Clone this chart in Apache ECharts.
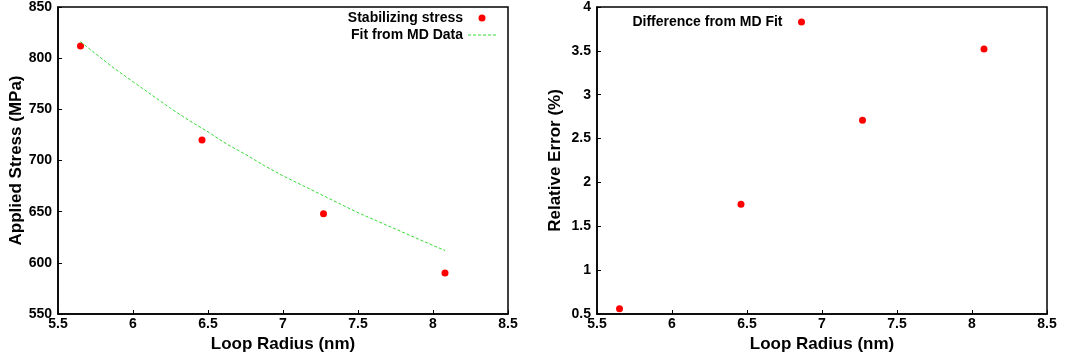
<!DOCTYPE html>
<html>
<head>
<meta charset="utf-8">
<script src="https://cdn.jsdelivr.net/npm/echarts@6/dist/echarts.min.js"></script>
<style>
html,body{margin:0;padding:0;background:#fff;}
#chart{width:1070px;height:360px;}
</style>
</head>
<body>
<div id="chart"></div>
<script>
// Data
const loopRadius = [5.65, 6.46, 7.27, 8.08];
const stabilizingStress = [812, 720, 648, 590];
const fitRadius = [5.65, 5.875, 6.0, 6.125, 6.25, 6.375, 6.5, 6.625, 6.75, 6.875, 7.0,
                   7.125, 7.25, 7.375, 7.5, 7.625, 7.75, 7.875, 8.0, 8.08];
const fitStress = [816, 790, 777, 764, 751, 739, 728, 716, 706, 695, 685,
                   676, 667, 658, 649, 641, 633, 625, 617, 612];
const relativeError = [0.56, 1.75, 2.71, 3.52];

const xTicks = {min: 5.5, max: 8.5, interval: 0.5};
const yTicksLeft = {min: 550, max: 850, interval: 50};
const yTicksRight = {min: 0.5, max: 4, interval: 0.5};

const FONT = '"Liberation Sans", Arial, sans-serif';
const axisLabel = {color: '#000', fontWeight: 'bold', fontSize: 14, fontFamily: FONT};
const nameStyle = {color: '#000', fontWeight: 'bold', fontSize: 17, fontFamily: FONT};
const legendText = {color: '#000', fontWeight: 'bold', fontSize: 14, fontFamily: FONT};
const GREEN = '#33dd33';
const dashIcon = 'path://M0 0h3v1h-3z M5 0h3v1h-3z M10 0h3v1h-3z M15 0h3v1h-3z M20 0h3v1h-3z M25 0h3v1h-3z';

function xAxis(gridIndex) {
  return {
    type: 'value', gridIndex,
    min: xTicks.min, max: xTicks.max, interval: xTicks.interval,
    name: 'Loop Radius (nm)', nameLocation: 'middle', nameGap: 20, nameTextStyle: nameStyle,
    axisLine: {show: true, lineStyle: {color: '#000', width: 1.5}},
    axisTick: {show: true, inside: true, length: 4, lineStyle: {color: '#000', width: 1}},
    axisLabel: Object.assign({margin: 3}, axisLabel),
    splitLine: {show: false}
  };
}
function yAxis(gridIndex, t, name) {
  return {
    type: 'value', gridIndex,
    min: t.min, max: t.max, interval: t.interval,
    name, nameLocation: 'middle', nameGap: 33, nameTextStyle: nameStyle,
    axisLine: {show: true, lineStyle: {color: '#000', width: 1.5}},
    axisTick: {show: true, inside: true, length: 4, lineStyle: {color: '#000', width: 1}},
    axisLabel: Object.assign({margin: 6}, axisLabel),
    splitLine: {show: false}
  };
}

const chart = echarts.init(document.getElementById('chart'), null, {renderer: 'canvas'});
chart.setOption({
  animation: false,
  backgroundColor: '#fff',
  grid: [
    {left: 58, top: 4, width: 450, height: 310, show: true, borderColor: '#000', borderWidth: 1.5},
    {left: 597, top: 4, width: 450, height: 310, show: true, borderColor: '#000', borderWidth: 1.5}
  ],
  xAxis: [xAxis(0), xAxis(1)],
  yAxis: [
    yAxis(0, yTicksLeft, 'Applied Stress (MPa)'),
    yAxis(1, yTicksRight, 'Relative Error (%)')
  ],
  legend: [
    {
      data: [
        {name: 'Stabilizing stress', icon: 'circle'},
        {name: 'Fit from MD Data', icon: dashIcon, itemStyle: {color: GREEN, borderWidth: 0}}
      ],
      orient: 'vertical', align: 'right', right: 574, top: 11, padding: 0,
      itemWidth: 28, itemHeight: 7, itemGap: 3,
      textStyle: legendText
    },
    {
      data: [{name: 'Difference from MD Fit', icon: 'circle'}],
      orient: 'vertical', align: 'right', right: 265, top: 15, padding: 0,
      itemWidth: 28, itemHeight: 7,
      textStyle: legendText
    }
  ],
  series: [
    {
      name: 'Stabilizing stress', type: 'scatter', xAxisIndex: 0, yAxisIndex: 0,
      symbol: 'circle', symbolSize: 7, itemStyle: {color: '#ff0000', opacity: 1},
      data: loopRadius.map((r, i) => [r, stabilizingStress[i]])
    },
    {
      name: 'Fit from MD Data', type: 'line', xAxisIndex: 0, yAxisIndex: 0,
      showSymbol: false, symbol: 'none',
      lineStyle: {color: GREEN, width: 1, type: [3, 2]},
      itemStyle: {color: GREEN},
      data: fitRadius.map((r, i) => [r, fitStress[i]])
    },
    {
      name: 'Difference from MD Fit', type: 'scatter', xAxisIndex: 1, yAxisIndex: 1,
      symbol: 'circle', symbolSize: 7, itemStyle: {color: '#ff0000', opacity: 1},
      data: loopRadius.map((r, i) => [r, relativeError[i]])
    }
  ]
});
</script>
</body>
</html>
